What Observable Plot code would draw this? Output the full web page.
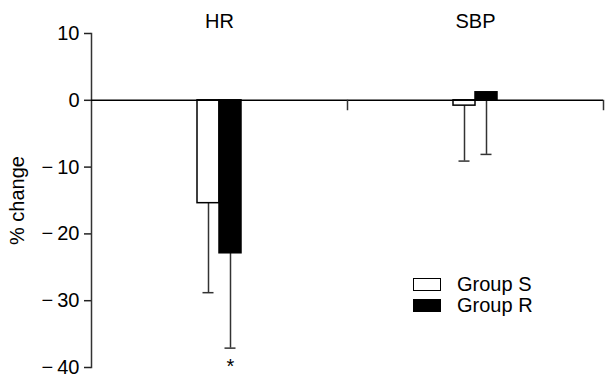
<!DOCTYPE html>
<html>
<head>
<meta charset="utf-8">
<script src="https://cdn.jsdelivr.net/npm/d3@7"></script>
<script src="https://cdn.jsdelivr.net/npm/@observablehq/plot@0.6"></script>
<style>
  html, body { margin: 0; padding: 0; background: #fff; }
  #wrap { position: relative; width: 605px; height: 379px; font-family: "Liberation Sans", Arial, sans-serif; }
  .leg { position: absolute; left: 413px; display: flex; align-items: center; font-size: 20px; color: #000; }
  .sw { width: 26px; height: 11px; border: 1.5px solid #000; margin-right: 16px; }
  svg text { font-size: 20px; }
</style>
</head>
<body>
<div id="wrap"></div>
<script>
const categories = ["HR", "SBP"];
const groups = ["Group S", "Group R"];
const meanS = [-15.4, -0.8];
const sdS = [13.4, 8.3];
const meanR = [-22.9, 1.2];
const sdR = [14.2, 9.3];
const yTicks = [10, 0, -10, -20, -30, -40];
const significant = [{category: "HR", group: "Group R"}];
const groupColors = ["white", "black"];

const data = categories.flatMap((c, i) => [
  {category: c, group: groups[0], mean: meanS[i], sd: sdS[i]},
  {category: c, group: groups[1], mean: meanR[i], sd: sdR[i]}
]);
const stars = significant.map(s => {
  const d = data.find(e => e.category === s.category && e.group === s.group);
  return {...s, low: d.mean - d.sd};
});

const chart = Plot.plot({
  width: 605, height: 379,
  marginLeft: 90, marginRight: 2, marginTop: 33, marginBottom: 12,
  style: {fontFamily: "Liberation Sans, Arial, sans-serif", fontSize: "20px", color: "#000", background: "white"},
  fx: {domain: categories, padding: 0},
  x: {domain: groups, paddingInner: 0, paddingOuter: 4.58, axis: null},
  y: {domain: [-40, 10]},
  color: {domain: groups, range: groupColors},
  marks: [
    Plot.axisFx({anchor: "top", tickSize: 0, tickPadding: 6, fontSize: 20, label: null}),
    Plot.axisY({ticks: yTicks, tickSize: 7, tickPadding: 5, fontSize: 20, stroke: "#222", strokeWidth: 1.5,
      tickFormat: d => d < 0 ? "\u2212\u2009" + Math.abs(d) : String(d),
      label: "% change", labelAnchor: "center", labelOffset: 82, labelArrow: "none"}),
    Plot.frame({anchor: "left", facet: "super", stroke: "#333", strokeWidth: 1.5}),
    Plot.ruleX(data, {fx: "category", x: "group", y1: "mean", y2: d => d.mean - d.sd, stroke: "#333", strokeWidth: 1.5}),
    Plot.tickY(data, {fx: "category", x: "group", y: d => d.mean - d.sd, insetLeft: 5.5, insetRight: 5.5, stroke: "#333", strokeWidth: 1.5}),
    Plot.barY(data, {fx: "category", x: "group", y: "mean", fill: "group", stroke: "black", strokeWidth: 1.5}),
    Plot.ruleY([0], {stroke: "black", strokeWidth: 1.5}),
    Plot.frame({anchor: "right", insetTop: 67, insetBottom: 258, stroke: "#333", strokeWidth: 1.5}),
    Plot.text(stars, {fx: "category", x: "group", y: "low", text: () => "*", lineAnchor: "top", dy: 11, fontSize: 20})
  ]
});
const wrap = document.getElementById("wrap");
wrap.appendChild(chart);
groups.forEach((g, i) => {
  const row = document.createElement("div");
  row.className = "leg";
  row.style.top = (273 + i * 21) + "px";
  const sw = document.createElement("div");
  sw.className = "sw";
  sw.style.background = groupColors[i];
  row.appendChild(sw);
  const t = document.createElement("span");
  t.textContent = g;
  row.appendChild(t);
  wrap.appendChild(row);
});
</script>
</body>
</html>
